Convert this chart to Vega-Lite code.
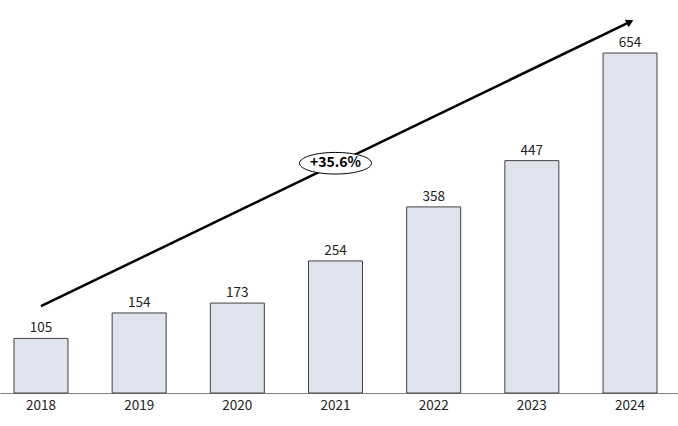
{
  "$schema": "https://vega.github.io/schema/vega-lite/v6.json",
  "width": 678,
  "height": 393,
  "autosize": {"type": "none"},
  "padding": {"left": 0, "right": 0, "top": 0, "bottom": 33},
  "background": "white",
  "config": {
    "view": {"stroke": null},
    "font": "Noto Sans CJK JP"
  },
  "datasets": {
    "bars": [
      {"year": "2018", "value": 105},
      {"year": "2019", "value": 154},
      {"year": "2020", "value": 173},
      {"year": "2021", "value": 254},
      {"year": "2022", "value": 358},
      {"year": "2023", "value": 447},
      {"year": "2024", "value": 654}
    ],
    "arrow": [
      {"year": "2018", "value": 167},
      {"year": "2024", "value": 714}
    ],
    "head": [
      {"year": "2024", "value": 714}
    ],
    "note": [
      {"year": "2021", "value": 442, "label": "+35.6%"}
    ]
  },
  "layer": [
    {
      "data": {"name": "bars"},
      "mark": {"type": "bar", "fill": "#dfe3ee", "stroke": "#404040", "strokeWidth": 1},
      "encoding": {
        "x": {
          "field": "year", "type": "nominal", "sort": null,
          "scale": {"paddingInner": 0.45, "paddingOuter": 0.178, "align": 0.4},
          "axis": {
            "title": null, "ticks": false, "labelAngle": 0, "labelFontSize": 13.5,
            "labelColor": "#222222", "labelPadding": 5, "domainColor": "#808080", "domainWidth": 1.2,
            "labelFont": "Noto Sans CJK JP"
          }
        },
        "y": {
          "field": "value", "type": "quantitative",
          "scale": {"domain": [0, 756], "nice": false},
          "axis": null
        }
      }
    },
    {
      "data": {"name": "bars"},
      "mark": {"type": "text", "dy": -10, "fontSize": 13.5, "color": "#222222", "font": "Noto Sans CJK JP"},
      "encoding": {
        "x": {"field": "year", "type": "nominal", "sort": null},
        "y": {"field": "value", "type": "quantitative"},
        "text": {"field": "value", "type": "quantitative"}
      }
    },
    {
      "data": {"name": "arrow"},
      "mark": {"type": "line", "color": "#000000", "strokeWidth": 2.5},
      "encoding": {
        "x": {"field": "year", "type": "nominal", "sort": null},
        "y": {"field": "value", "type": "quantitative"}
      }
    },
    {
      "data": {"name": "head"},
      "mark": {"type": "point", "shape": "triangle-right", "filled": true, "color": "#000000", "opacity": 1, "size": 70, "angle": -26},
      "encoding": {
        "x": {"field": "year", "type": "nominal", "sort": null},
        "y": {"field": "value", "type": "quantitative"}
      }
    },
    {
      "data": {"name": "note"},
      "mark": {"type": "point", "shape": "M-1,0A1,0.3,0,1,1,1,0A1,0.3,0,1,1,-1,0Z", "filled": true, "fill": "#ffffff", "stroke": "#000000", "strokeWidth": 1, "opacity": 1, "size": 5184},
      "encoding": {
        "x": {"field": "year", "type": "nominal", "sort": null},
        "y": {"field": "value", "type": "quantitative"}
      }
    },
    {
      "data": {"name": "note"},
      "mark": {"type": "text", "fontSize": 14, "fontWeight": "bold", "color": "#000000", "font": "Noto Sans CJK JP"},
      "encoding": {
        "x": {"field": "year", "type": "nominal", "sort": null},
        "y": {"field": "value", "type": "quantitative"},
        "text": {"field": "label", "type": "nominal"}
      }
    }
  ]
}
